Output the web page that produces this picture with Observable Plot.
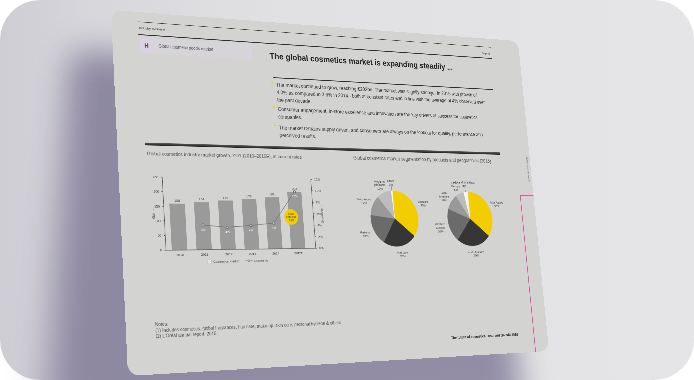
<!DOCTYPE html>
<html><head><meta charset="utf-8">
<script src="https://cdn.jsdelivr.net/npm/d3@7"></script>
<script src="https://cdn.jsdelivr.net/npm/@observablehq/plot@0.6"></script>
<style>
html,body{margin:0;padding:0;background:#fff;width:694px;height:380px;overflow:hidden}
#card{position:absolute;left:0;top:0;width:694px;height:380px;border-radius:40px;overflow:hidden;
 background:linear-gradient(90deg,#cfcdd4 0%,#d8d7dc 14%,#e1e1e3 40%,#e5e5e7 100%)}
#shadow{position:absolute;left:0;top:0;width:1120px;height:800px;transform-origin:0 0;background:rgba(92,84,122,.6);filter:blur(40px);border-radius:30px}
#slide{position:absolute;left:0;top:0;width:1120px;height:800px;transform-origin:0 0;background:#d3d3d1;border-radius:26px;overflow:hidden;
 font-family:"Liberation Sans",Arial,sans-serif;color:#2b2b2b}
.abs{position:absolute;white-space:nowrap}
.rule{position:absolute;background:#2e2e2e}
.bl{position:absolute;left:400px;font-size:12.4px;line-height:18px;color:#333}
.bm{position:absolute;left:388px;width:4px;height:4px;background:#f2cf00}
</style></head>
<body>
<div id="card">
 <div id="shadow"></div>
 <div id="slide">
  <div class="rule" style="left:62px;top:22px;width:969px;height:1.3px"></div>
  <div class="abs" style="left:64px;top:32px;font-size:8px;color:#333">Industry overview</div>
  <div class="abs" style="left:1000px;top:36px;font-size:7px;color:#333">Page 41</div>
  <div class="rule" style="left:62px;top:51px;width:969px;height:1.6px"></div>
  <div class="abs" style="left:64px;top:58px;width:32px;height:36px;background:#dbd1e0;font-weight:bold;font-size:14px;line-height:36px;text-align:center;color:#444">H</div>
  <div class="abs" style="left:97px;top:58px;width:244px;height:36px;background:#d6d4d8;border-right:3px solid #e2cfe6;font-size:10px;line-height:36px;color:#555;padding-left:12px;box-sizing:border-box">Global cosmetic goods market</div>
  <div class="abs" style="left:388px;top:70px;font-size:20.5px;font-weight:bold;color:#222">The global cosmetics market is expanding steadily ...</div>
  <div class="rule" style="left:394px;top:133px;width:631px;height:1.5px"></div>
  <div class="bm" style="top:144px"></div>
  <div class="bl" style="top:142px">The market continued to grow, reaching €203bn. The market was slightly stronger in 2015 with growth of<br>4.0% as compared to 3.6% in 2014 - both at constant rates and in line with the average of 4% observed over<br>the past decade.</div>
  <div class="bm" style="top:202px"></div>
  <div class="bl" style="top:200px">Consumer engagement, in-store excellence and innovation are the key drivers of success for cosmetics<br>companies.</div>
  <div class="bm" style="top:246px"></div>
  <div class="bl" style="top:244px">The market remains supply driven, and consumers are always on the lookout for quality, performance and<br>perceived results.</div>
  <div class="rule" style="left:65px;top:297px;width:962px;height:6px;background:linear-gradient(#5a5a5a,#1f1f1f)"></div>
  <div class="abs" style="left:68px;top:315px;font-size:11.2px;color:#555">Global cosmetics industry market growth, YOY (2010–2015E), at current rates</div>
  <div class="abs" style="left:594px;top:313px;font-size:12px;color:#555">Global cosmetics market segmentation by products and geographies (2015)</div>
  <div id="bar" class="abs" style="left:40px;top:340px;width:500px;height:250px"></div>
  <div class="abs" style="left:198px;top:557px;font-size:8px;color:#444;line-height:10px"><span style="display:inline-block;width:9px;height:6px;background:#e4e4e4;border:1px solid #bbb;margin-right:4px;vertical-align:-1px"></span>Cosmetics market</div>
  <div class="abs" style="left:292px;top:557px;font-size:8px;color:#444;line-height:10px"><svg width="18" height="8" style="vertical-align:-1px;margin-right:3px"><line x1="0" y1="4" x2="18" y2="4" stroke="#6d6d6d" stroke-width="1.2"/><circle cx="9" cy="4" r="2.3" fill="#cfcfcf" stroke="#6d6d6d"/></svg>Growth %</div>
  <div id="pie1" class="abs" style="left:561.6px;top:331px;width:268px;height:268px"></div>
  <div id="pie2" class="abs" style="left:782.3px;top:331.6px;width:268px;height:268px"></div>
  <div class="abs" style="left:67px;top:688px;font-size:10.5px;line-height:12.6px;color:#555">Notes:<br>(1) Includes cosmetics, global fragrances, hair care, make-up, skin care, personal hygiene &amp; others<br>(2) L'Oréal annual report, 2015.</div>
  <div class="abs" style="right:91px;top:750px;font-size:9px;font-weight:bold;color:#222">The future of cosmetics: Year end Q4 edit 2016</div>
  <div class="abs" style="left:1078px;top:336px;font-size:6px;color:#555;transform:rotate(90deg);transform-origin:center">Global cosmetics market</div>
  <div class="abs" style="left:1077px;top:406px;width:2px;height:400px;background:#e2559e"></div>
  <div class="abs" style="left:1077px;top:406px;width:50px;height:2px;background:#e2559e"></div>
 </div>
</div>
<script>
// ---- data ----
const years = ["2010", "2011", "2012", "2013", "2014", "2015E"];
const marketValues = [158, 164, 170, 176, 183, 203];
const growthValues = [null, 4.1, 3.7, 4.0, 4.4, 9.8];
const growthLabels = ["", "4%", "4%", "4%", "4%", "10%"];
const leftTicks = [0, 50, 100, 150, 200, 250];
const rightTicks = [0, 2, 4, 6, 8, 10, 12];
const cagrNote = {year: "2015E", value: 113, text: "CAGR\n2010-15E\n5.1%"};

const productNames = ["Skincare", "Haircare", "Make-up", "Fragrances", "Hygiene\nproducts", "Other"];
const productShares = [36, 23, 18, 12, 10, 1];
const regionNames = ["Asia Pacific", "North America", "Western\nEurope", "Latin\nAmerica", "Eastern\nEurope", "Africa Middle East"];
const regionShares = [36, 25, 20, 10, 6, 3];
const sliceColors = ["#f2cd00", "#363636", "#6b6b6b", "#999999", "#bcbcbc", "#f4f4f4"];

const FONT = '"Liberation Sans", Arial, sans-serif';

// ---- perspective of the sheet ----
function matrixFor(W, H, p) {
  const [[x0,y0],[x1,y1],[x2,y2],[x3,y3]] = p;
  const dx1=x1-x2, dx2=x3-x2, dx3=x0-x1+x2-x3, dy1=y1-y2, dy2=y3-y2, dy3=y0-y1+y2-y3;
  const det = dx1*dy2 - dx2*dy1;
  const g = (dx3*dy2 - dx2*dy3)/det, h = (dx1*dy3 - dx3*dy1)/det;
  const a = x1-x0+g*x1, b = x3-x0+h*x3, d = y1-y0+g*y1, e = y3-y0+h*y3;
  return `matrix3d(${a/W},${d/W},0,${g/W},${b/H},${e/H},0,${h/H},0,0,1,0,${x0},${y0},0,1)`;
}
document.getElementById("slide").style.transform = matrixFor(1120, 800, [[111,10],[518,41],[549,351],[128,376]]);
document.getElementById("shadow").style.transform = matrixFor(1120, 800, [[70,50],[480,75],[525,420],[45,430]]);

// ---- bar + line chart ----
const k = 250 / 12;
const barData = years.map((y, i) => ({year: y, value: marketValues[i], growth: growthValues[i], glabel: growthLabels[i]}));
const lineData = barData.filter(d => d.growth != null);
const bar = Plot.plot({
  width: 500, height: 250,
  marginLeft: 60.8, marginRight: 66.2, marginTop: 32.8, marginBottom: 55.6,
  style: {background: "transparent", overflow: "visible", fontFamily: FONT, fontSize: "8px", color: "#333"},
  x: {type: "band", domain: years, range: [61, 420.5], paddingInner: 0.37, paddingOuter: 0.2, axis: null},
  y: {domain: [0, 250], axis: null},
  marks: [
    Plot.barY(barData, {x: "year", y: "value", fill: "#9a9a9a"}),
    Plot.text(barData, {x: "year", y: "value", text: d => String(d.value), dy: -7, fontSize: 8, fill: "#444"}),
    Plot.line(lineData, {x: "year", y: d => d.growth * k, stroke: "#6d6d6d", strokeWidth: 1.3}),
    Plot.dot(lineData, {x: "year", y: d => d.growth * k, r: 2.6, fill: "#cfcfcf", stroke: "#6d6d6d"}),
    Plot.text(lineData, {x: "year", y: d => d.growth * k, text: "glabel", dy: 11, fill: "#fff", fontSize: 7.5}),
    Plot.dot([cagrNote], {x: "year", y: "value", dx: -13, r: 18, fill: "#f2cd00"}),
    Plot.text([cagrNote], {x: "year", y: "value", dx: -13, text: "text", fontSize: 6, lineHeight: 1.15, fill: "#333"}),
    Plot.ruleY([0], {stroke: "#333"}),
    Plot.frame({anchor: "left", stroke: "#333"}),
    Plot.frame({anchor: "right", stroke: "#333"}),
    Plot.axisY(leftTicks, {anchor: "left", tickSize: 3, label: "€bn", labelAnchor: "center", labelOffset: 28}),
    Plot.axisY(rightTicks.map(v => v * k), {anchor: "right", tickSize: 3, tickFormat: d => `${Math.round(d / k)}%`, label: "Growth %", labelAnchor: "center", labelOffset: 26}),
    Plot.axisX({tickSize: 0, tickPadding: 7, label: null})
  ]
});
document.getElementById("bar").append(bar);

// ---- pies ----
function pie(names, shares) {
  const arcs = d3.pie().sort(null).value(d => d)(shares);
  const marks = arcs.map((a, i) => {
    const n = Math.max(3, Math.ceil((a.endAngle - a.startAngle) * 40));
    const pts = [{x: 0, y: 0}];
    for (let j = 0; j <= n; j++) {
      const t = a.startAngle + (a.endAngle - a.startAngle) * j / n;
      pts.push({x: Math.sin(t), y: Math.cos(t)});
    }
    return Plot.line(pts, {x: "x", y: "y", fill: sliceColors[i], stroke: sliceColors[i], strokeWidth: 0.6, curve: "linear-closed"});
  });
  const lab = arcs.map((a, i) => ({m: (a.startAngle + a.endAngle) / 2, text: `${names[i]}\n${shares[i]}%`, small: shares[i] < 4}));
  marks.push(Plot.link(lab.filter(d => d.small), {x1: d => Math.sin(d.m), y1: d => Math.cos(d.m), x2: d => 1.18 * Math.sin(d.m), y2: d => 1.18 * Math.cos(d.m), stroke: "#444", strokeWidth: 0.7}));
  marks.push(Plot.text(lab, {x: d => 1.4 * Math.sin(d.m), y: d => 1.3 * Math.cos(d.m), text: "text", fontSize: 8, lineHeight: 1.1, fill: "#333"}));
  return Plot.plot({
    width: 268, height: 268, margin: 0,
    x: {domain: [-2, 2], axis: null}, y: {domain: [-2, 2], axis: null},
    style: {background: "transparent", overflow: "visible", fontFamily: FONT},
    marks
  });
}
document.getElementById("pie1").append(pie(productNames, productShares));
document.getElementById("pie2").append(pie(regionNames, regionShares));
</script>
</body></html>
